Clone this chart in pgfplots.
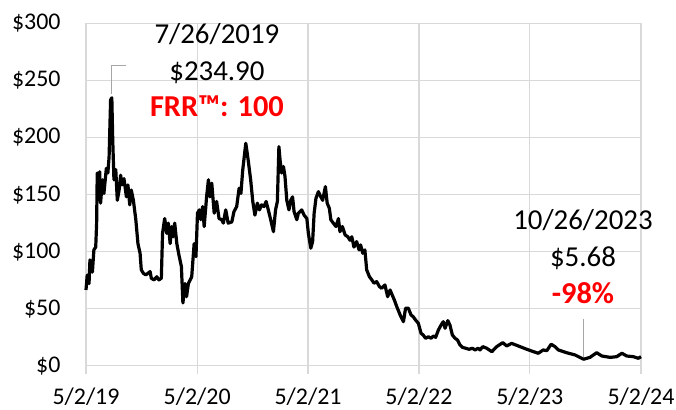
\documentclass[border=0pt]{standalone}
\usepackage{pgfplots}
\pgfplotsset{compat=1.18}
\usepackage{fontspec}
\setmainfont{Carlito}
\definecolor{gridc}{HTML}{D9D9D9}
\definecolor{leadc}{HTML}{A6A6A6}
\definecolor{frr}{HTML}{FF0000}
\begin{document}
\begin{tikzpicture}
\path[use as bounding box] (0,0) rectangle (676bp,410bp);
\begin{axis}[
 at={(86bp,44.3bp)}, anchor=south west,
 scale only axis, width=555bp, height=342.2bp,
 xmin=0, xmax=1827, ymin=0, ymax=300,
 xtick={0,366,731,1096,1461,1827},
 xticklabels={5/2/19,5/2/20,5/2/21,5/2/22,5/2/23,5/2/24},
 ytick={0,50,100,150,200,250,300},
 yticklabels={\$0,\$50,\$100,\$150,\$200,\$250,\$300},
 grid=major, grid style={gridc, line width=1.3bp},
 axis line style={gridc, line width=1.3bp},
 tick pos=left, tick align=outside,
 x tick style={gridc, line width=1.3bp}, major tick length=8bp,
 y tick style={draw=none},
 ticklabel style={font=\fontsize{24}{28}\selectfont, text=black},
 yticklabel style={xshift=-14bp},
 xticklabel style={yshift=-11bp},
 clip=false,
]
\addplot[black, line width=3.2bp, line join=round] coordinates {
(0,66.4)(4,79.5)(10,72)(13,92.7)(21,82)(26,101.5)(32,104)(35,125)(37,169)(40,157)(45,170)(48,142.5)(54,163)(59,151)(67,173)(72,169)(76,183)(81,233)(85,234.9)(88,198)(92,163)(98,172)(103,145)(109,154)(114,167)(119,158.5)(125,164)(133,148)(138,158.5)(144,141)(149,154)(156,145)(164,128)(171,107)(178,98.6)(182,84)(189,81)(197,79.6)(204,81)(211,82.5)(215,76.7)(224,75.2)(233,78)(240,75.2)(248,76.7)(252,116)(259,129)(266,116)(271,125)(277,107)(282,122)(287,113)(292,125)(299,107)(306,97)(314,87)(319,55)(326,72)(331,60.5)(337,72)(348,78)(356,107)(362,95.6)(367,133.7)(373,136.6)(378,128)(384,139.5)(389,122)(397,148)(403,163)(408,148)(414,160)(422,133.7)(430,144)(438,129)(447,128)(452,125)(460,136.6)(468,125)(480,126)(487,135)(496,139.5)(504,155.6)(510,151)(516,171.7)(526,195)(534,180)(542,163)(549,144)(556,132)(564,142.5)(571,136.6)(578,141)(586,139.5)(593,144)(600,136.6)(608,128)(617,117.5)(624,136.6)(630,144)(635,192)(639,180)(644,169)(650,174.6)(655,166)(661,145)(668,136.6)(674,145)(680,148)(685,135)(694,128)(699,133.7)(710,136.6)(718,132)(727,129)(732,116)(740,103)(746,108.8)(751,133.7)(757,146.8)(765,152.6)(773,148)(779,145)(788,157)(794,142.5)(801,138)(806,128)(814,125)(823,122)(831,129)(836,117.5)(844,122)(853,114.6)(862,113)(869,110)(875,113)(882,104)(891,108.8)(899,101.5)(904,105.9)(911,98.6)(918,101.5)(924,84)(933,78)(941,75.2)(948,72.3)(957,73.7)(966,69.3)(973,67.9)(984,70.8)(993,60.5)(1001,66.4)(1008,62)(1015,57.6)(1023,51.8)(1034,44.5)(1045,38.6)(1052,50.4)(1061,50.4)(1070,44.5)(1077,43)(1085,40)(1094,37.2)(1103,28.4)(1110,26.9)(1118,24)(1127,25.4)(1136,24)(1143,26)(1151,24.9)(1160,31.3)(1169,35.7)(1176,38.6)(1182,32.8)(1191,39.5)(1198,35.7)(1206,26.9)(1215,24)(1223,22.5)(1231,18.2)(1239,16.1)(1250,15.3)(1261,14.4)(1272,15.3)(1281,13.8)(1291,15.3)(1297,13.8)(1306,16.7)(1319,15.3)(1336,12.3)(1352,16.7)(1372,20.2)(1385,17.3)(1401,19.6)(1423,17.3)(1451,14.4)(1473,12.3)(1489,10.9)(1505,13.8)(1517,13.2)(1531,18.8)(1544,16.7)(1555,13.8)(1582,11.4)(1610,9.4)(1638,5.68)(1659,7.3)(1681,11.4)(1698,8.5)(1725,7.3)(1747,7.9)(1764,10.9)(1780,8.5)(1802,7.9)(1818,6.5)(1827,7.9)
};
\draw[leadc, line width=1.2bp] (axis cs:85,238) -- (axis cs:85,263) -- (axis cs:132,263);
\draw[leadc, line width=1.2bp] (axis cs:1638,41) -- (axis cs:1638,8);
\node[anchor=base, font=\fontsize{29}{34}\selectfont] at (axis cs:431,282.2) {7/26/2019};
\node[anchor=base, font=\fontsize{29}{34}\selectfont] at (axis cs:431,250.2) {\$234.90};
\node[anchor=base, font=\fontsize{30.5}{36}\selectfont\bfseries, text=frr] at (axis cs:431,218.2) {FRR™: 100};
\node[anchor=base, font=\fontsize{29}{34}\selectfont] at (axis cs:1636,119) {10/26/2023};
\node[anchor=base, font=\fontsize{29}{34}\selectfont] at (axis cs:1636,86.6) {\$5.68};
\node[anchor=base, font=\fontsize{30.5}{36}\selectfont\bfseries, text=frr] at (axis cs:1636,54.6) {-98\%};
\end{axis}
\end{tikzpicture}
\end{document}
